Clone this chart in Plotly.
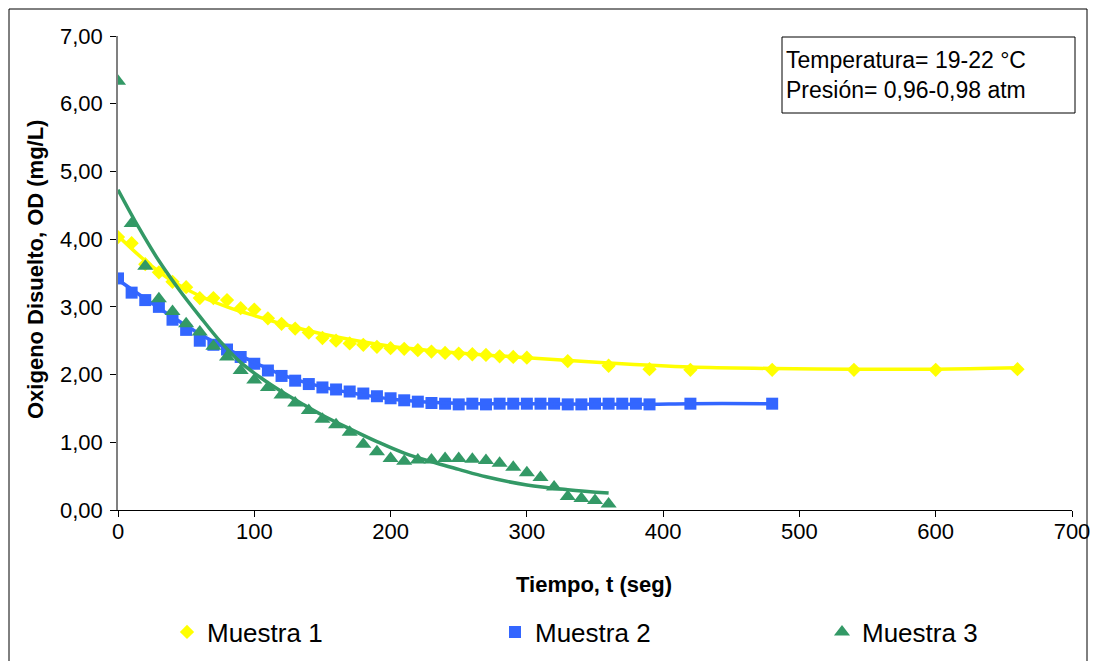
import plotly.graph_objects as go

# ---- data ----
t1 = [0, 10, 20, 30, 40, 50, 60, 70, 80, 90, 100, 110, 120, 130, 140, 150, 160, 170, 180, 190,
      200, 210, 220, 230, 240, 250, 260, 270, 280, 290, 300, 330, 360, 390, 420, 480, 540, 600, 660]
od1 = [4.03, 3.94, 3.63, 3.51, 3.37, 3.29, 3.13, 3.13, 3.10, 2.98, 2.96, 2.83, 2.75, 2.68, 2.62,
       2.54, 2.50, 2.46, 2.44, 2.41, 2.39, 2.38, 2.36, 2.34, 2.32, 2.31, 2.30, 2.29, 2.27, 2.26,
       2.25, 2.20, 2.13, 2.08, 2.07, 2.07, 2.07, 2.07, 2.08]

t2 = [0, 10, 20, 30, 40, 50, 60, 70, 80, 90, 100, 110, 120, 130, 140, 150, 160, 170, 180, 190,
      200, 210, 220, 230, 240, 250, 260, 270, 280, 290, 300, 310, 320, 330, 340, 350, 360, 370,
      380, 390, 420, 480]
od2 = [3.42, 3.21, 3.10, 3.00, 2.81, 2.66, 2.50, 2.44, 2.37, 2.26, 2.16, 2.06, 1.98, 1.91, 1.86,
       1.81, 1.78, 1.75, 1.72, 1.68, 1.65, 1.62, 1.60, 1.58, 1.57, 1.56, 1.57, 1.56, 1.57, 1.57,
       1.57, 1.57, 1.57, 1.56, 1.56, 1.57, 1.57, 1.57, 1.57, 1.56, 1.57, 1.57]

t3 = [0, 10, 20, 30, 40, 50, 60, 70, 80, 90, 100, 110, 120, 130, 140, 150, 160, 170, 180, 190,
      200, 210, 220, 230, 240, 250, 260, 270, 280, 290, 300, 310, 320, 330, 340, 350, 360]
od3 = [6.33, 4.23, 3.60, 3.12, 2.93, 2.75, 2.63, 2.42, 2.26, 2.06, 1.92, 1.81, 1.70, 1.58, 1.47,
       1.34, 1.26, 1.15, 0.97, 0.86, 0.76, 0.72, 0.74, 0.74, 0.76, 0.76, 0.75, 0.73, 0.69, 0.63,
       0.55, 0.48, 0.34, 0.20, 0.17, 0.14, 0.09]

# trend lines
tt1 = [0, 20, 40, 60, 80, 100, 120, 150, 200, 250, 300, 360, 420, 480, 540, 600, 660]
tr1 = [4.05, 3.68, 3.38, 3.16, 3.00, 2.87, 2.75, 2.60, 2.42, 2.32, 2.25, 2.17, 2.11, 2.09, 2.08, 2.08, 2.10]

tt2 = [0, 20, 40, 60, 80, 100, 120, 140, 160, 180, 200, 230, 260, 300, 350, 390, 420, 480]
tr2 = [3.40, 3.12, 2.85, 2.60, 2.38, 2.18, 2.00, 1.87, 1.77, 1.70, 1.64, 1.59, 1.57, 1.57, 1.56, 1.56, 1.57, 1.57]

tt3 = [0, 15, 30, 45, 60, 75, 90, 105, 120, 135, 150, 170, 190, 210, 234, 250, 270, 300, 330, 360]
tr3 = [4.73, 4.18, 3.68, 3.25, 2.86, 2.49, 2.18, 1.95, 1.75, 1.57, 1.40, 1.20, 1.01, 0.84, 0.69,
       0.60, 0.49, 0.37, 0.30, 0.25]

names = ["Muestra 1", "Muestra 2", "Muestra 3"]
colors = ["#FFFF00", "#3366FF", "#339966"]
symbols = ["diamond", "square", "triangle-up"]
sizes = [11, 12, 14]
legend_ids = ["legend", "legend2", "legend3"]

fig = go.Figure()
series = [(t1, od1, tt1, tr1), (t2, od2, tt2, tr2), (t3, od3, tt3, tr3)]
for i, (tx, ty, lx, ly) in enumerate(series):
    fig.add_trace(go.Scatter(x=tx, y=ty, mode="markers", name=names[i], legend=legend_ids[i],
                             marker=dict(symbol=symbols[i], size=sizes[i], color=colors[i],
                                         line=dict(width=0))))
    fig.add_trace(go.Scatter(x=lx, y=ly, mode="lines", showlegend=False, hoverinfo="skip",
                             line=dict(color=colors[i], width=3.5, shape="spline", smoothing=1.0)))

X0, X1, Y0, Y1 = 118, 1072, 36, 510
W, H = 1093, 661


def px(x):
    return (x - X0) / (X1 - X0)


def py(y):
    return (Y1 - y) / (Y1 - Y0)


def leg(xpix):
    return dict(orientation="h", xref="container", yref="container", x=xpix / W,
                y=(H - 632) / H, xanchor="left", yanchor="middle", font=dict(size=26),
                bgcolor="rgba(0,0,0,0)", borderwidth=0)


font = "Liberation Sans, Arial, sans-serif"

fig.update_layout(
    template="none",
    width=W, height=H,
    margin=dict(l=X0, r=W - X1, t=Y0, b=H - Y1, autoexpand=False),
    paper_bgcolor="white", plot_bgcolor="white",
    separators=",.",
    font=dict(family=font, size=22, color="black"),
    showlegend=True,
    legend=leg(167), legend2=leg(495), legend3=leg(822),
    xaxis=dict(range=[0, 700], tickvals=[0, 100, 200, 300, 400, 500, 600, 700],
               showgrid=False, zeroline=False, showline=True, linecolor="black", linewidth=1,
               ticks="outside", ticklen=6, tickcolor="black", tickfont=dict(size=22),
               ticklabelstandoff=-4, automargin=False),
    yaxis=dict(range=[0, 7], tickvals=[0, 1, 2, 3, 4, 5, 6, 7], tickformat=".2f",
               showgrid=False, zeroline=False, showline=True, linecolor="#808080", linewidth=1.5,
               ticks="outside", ticklen=6, tickcolor="black", tickfont=dict(size=22),
               ticklabelstandoff=3, automargin=False),
    annotations=[
        dict(text="<b>Tiempo, t (seg)</b>", xref="paper", yref="paper", x=px(594), y=py(584),
             xanchor="center", yanchor="middle", showarrow=False, font=dict(size=22)),
        dict(text="<b>Oxigeno Disuelto, OD (mg/L)</b>", xref="paper", yref="paper", x=px(35),
             y=py(270), xanchor="center", yanchor="middle", showarrow=False, textangle=-90,
             font=dict(size=22)),
        dict(text="Temperatura= 19-22 °C<br>Presión= 0,96-0,98 atm", xref="paper", yref="paper",
             x=px(784), y=py(75), xanchor="left", yanchor="middle", align="left",
             showarrow=False, font=dict(size=23)),
    ],
    shapes=[
        dict(type="rect", xref="paper", yref="paper", x0=px(9), x1=px(1087), y0=py(9), y1=py(675),
             line=dict(color="black", width=1), layer="below"),
        dict(type="rect", xref="paper", yref="paper", x0=px(782), x1=px(1075), y0=py(37), y1=py(113),
             line=dict(color="black", width=1), fillcolor="white", layer="below"),
    ],
)

fig.write_html("out.html")
